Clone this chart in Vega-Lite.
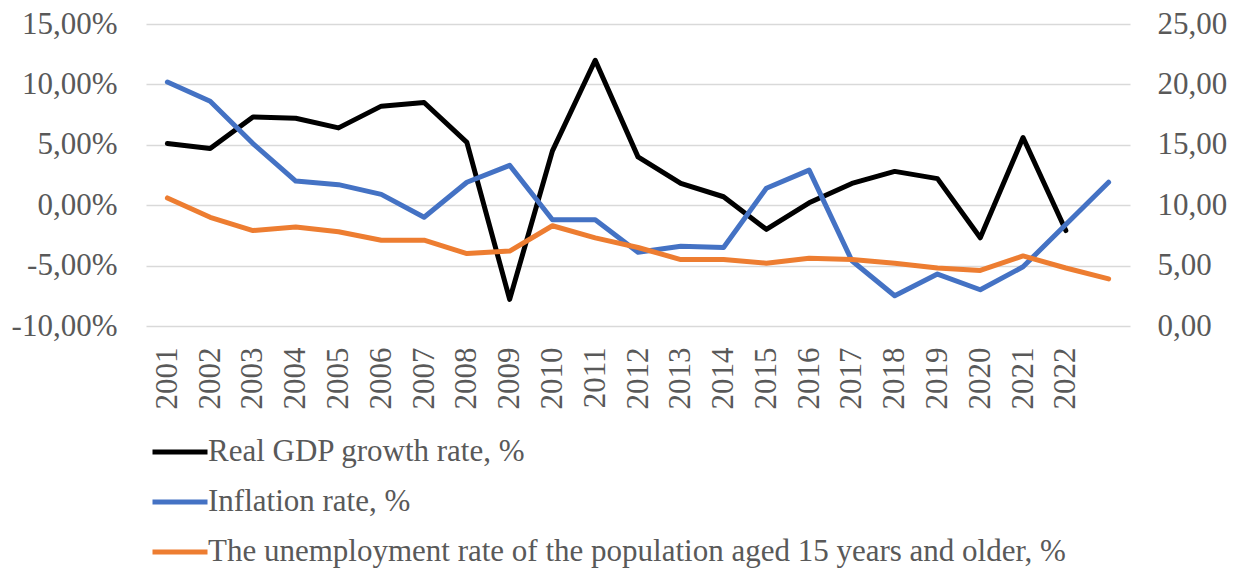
{
  "$schema": "https://vega.github.io/schema/vega-lite/v6.json",
  "width": 984,
  "height": 302,
  "autosize": {"type": "none"},
  "padding": {"left": 146, "top": 24, "right": 110, "bottom": 245},
  "background": "white",
  "config": {"view": {"stroke": null}, "font": "Liberation Serif"},
  "data": {"values": [
    {"year": "2001", "series": "Real GDP growth rate, %", "value": 5.1},
    {"year": "2002", "series": "Real GDP growth rate, %", "value": 4.7},
    {"year": "2003", "series": "Real GDP growth rate, %", "value": 7.3},
    {"year": "2004", "series": "Real GDP growth rate, %", "value": 7.2},
    {"year": "2005", "series": "Real GDP growth rate, %", "value": 6.4},
    {"year": "2006", "series": "Real GDP growth rate, %", "value": 8.2},
    {"year": "2007", "series": "Real GDP growth rate, %", "value": 8.5},
    {"year": "2008", "series": "Real GDP growth rate, %", "value": 5.2},
    {"year": "2009", "series": "Real GDP growth rate, %", "value": -7.8},
    {"year": "2010", "series": "Real GDP growth rate, %", "value": 4.5},
    {"year": "2011", "series": "Real GDP growth rate, %", "value": 12.0},
    {"year": "2012", "series": "Real GDP growth rate, %", "value": 4.0},
    {"year": "2013", "series": "Real GDP growth rate, %", "value": 1.8},
    {"year": "2014", "series": "Real GDP growth rate, %", "value": 0.7},
    {"year": "2015", "series": "Real GDP growth rate, %", "value": -2.0},
    {"year": "2016", "series": "Real GDP growth rate, %", "value": 0.2},
    {"year": "2017", "series": "Real GDP growth rate, %", "value": 1.8},
    {"year": "2018", "series": "Real GDP growth rate, %", "value": 2.8},
    {"year": "2019", "series": "Real GDP growth rate, %", "value": 2.2},
    {"year": "2020", "series": "Real GDP growth rate, %", "value": -2.7},
    {"year": "2021", "series": "Real GDP growth rate, %", "value": 5.6},
    {"year": "2022", "series": "Real GDP growth rate, %", "value": -2.1},
    {"year": "2001", "series": "Inflation rate, %", "value": 20.2},
    {"year": "2002", "series": "Inflation rate, %", "value": 18.6},
    {"year": "2003", "series": "Inflation rate, %", "value": 15.1},
    {"year": "2004", "series": "Inflation rate, %", "value": 12.0},
    {"year": "2005", "series": "Inflation rate, %", "value": 11.7},
    {"year": "2006", "series": "Inflation rate, %", "value": 10.9},
    {"year": "2007", "series": "Inflation rate, %", "value": 9.0},
    {"year": "2008", "series": "Inflation rate, %", "value": 11.9},
    {"year": "2009", "series": "Inflation rate, %", "value": 13.3},
    {"year": "2010", "series": "Inflation rate, %", "value": 8.8},
    {"year": "2011", "series": "Inflation rate, %", "value": 8.8},
    {"year": "2012", "series": "Inflation rate, %", "value": 6.1},
    {"year": "2013", "series": "Inflation rate, %", "value": 6.6},
    {"year": "2014", "series": "Inflation rate, %", "value": 6.5},
    {"year": "2015", "series": "Inflation rate, %", "value": 11.4},
    {"year": "2016", "series": "Inflation rate, %", "value": 12.9},
    {"year": "2017", "series": "Inflation rate, %", "value": 5.4},
    {"year": "2018", "series": "Inflation rate, %", "value": 2.5},
    {"year": "2019", "series": "Inflation rate, %", "value": 4.3},
    {"year": "2020", "series": "Inflation rate, %", "value": 3.0},
    {"year": "2021", "series": "Inflation rate, %", "value": 4.9},
    {"year": "2022", "series": "Inflation rate, %", "value": 8.4},
    {"year": "2023", "series": "Inflation rate, %", "value": 11.9},
    {"year": "2001", "series": "The unemployment rate of the population aged 15 years and older, %", "value": 10.6},
    {"year": "2002", "series": "The unemployment rate of the population aged 15 years and older, %", "value": 9.0},
    {"year": "2003", "series": "The unemployment rate of the population aged 15 years and older, %", "value": 7.9},
    {"year": "2004", "series": "The unemployment rate of the population aged 15 years and older, %", "value": 8.2},
    {"year": "2005", "series": "The unemployment rate of the population aged 15 years and older, %", "value": 7.8},
    {"year": "2006", "series": "The unemployment rate of the population aged 15 years and older, %", "value": 7.1},
    {"year": "2007", "series": "The unemployment rate of the population aged 15 years and older, %", "value": 7.1},
    {"year": "2008", "series": "The unemployment rate of the population aged 15 years and older, %", "value": 6.0},
    {"year": "2009", "series": "The unemployment rate of the population aged 15 years and older, %", "value": 6.2},
    {"year": "2010", "series": "The unemployment rate of the population aged 15 years and older, %", "value": 8.3},
    {"year": "2011", "series": "The unemployment rate of the population aged 15 years and older, %", "value": 7.3},
    {"year": "2012", "series": "The unemployment rate of the population aged 15 years and older, %", "value": 6.5},
    {"year": "2013", "series": "The unemployment rate of the population aged 15 years and older, %", "value": 5.5},
    {"year": "2014", "series": "The unemployment rate of the population aged 15 years and older, %", "value": 5.5},
    {"year": "2015", "series": "The unemployment rate of the population aged 15 years and older, %", "value": 5.2},
    {"year": "2016", "series": "The unemployment rate of the population aged 15 years and older, %", "value": 5.6},
    {"year": "2017", "series": "The unemployment rate of the population aged 15 years and older, %", "value": 5.5},
    {"year": "2018", "series": "The unemployment rate of the population aged 15 years and older, %", "value": 5.2},
    {"year": "2019", "series": "The unemployment rate of the population aged 15 years and older, %", "value": 4.8},
    {"year": "2020", "series": "The unemployment rate of the population aged 15 years and older, %", "value": 4.6},
    {"year": "2021", "series": "The unemployment rate of the population aged 15 years and older, %", "value": 5.8},
    {"year": "2022", "series": "The unemployment rate of the population aged 15 years and older, %", "value": 4.8},
    {"year": "2023", "series": "The unemployment rate of the population aged 15 years and older, %", "value": 3.9}
  ]},
  "encoding": {
    "x": {
      "field": "year", "type": "ordinal",
      "scale": {"type": "point", "padding": 0.5},
      "axis": {
        "title": null, "labelAngle": -90, "labelFontSize": 31, "labelColor": "#595959",
        "labelPadding": 21, "ticks": false, "domain": false, "grid": false,
        "labelExpr": "datum.value == '2023' ? '' : datum.label"
      }
    },
    "color": {
      "field": "series", "type": "nominal",
      "scale": {
        "domain": ["Real GDP growth rate, %", "Inflation rate, %", "The unemployment rate of the population aged 15 years and older, %"],
        "range": ["#000000", "#4472C4", "#ED7D31"]
      },
      "legend": {
        "orient": "none", "legendX": 4, "legendY": 398, "direction": "vertical", "title": null,
        "symbolType": "stroke", "symbolSize": 3025, "symbolStrokeWidth": 5,
        "labelFontSize": 31, "labelColor": "#595959", "labelOffset": -2, "labelLimit": 1200,
        "rowPadding": 5, "padding": 0
      }
    }
  },
  "layer": [
    {
      "transform": [{"filter": "datum.series == 'Real GDP growth rate, %'"}],
      "mark": {"type": "line", "strokeWidth": 5, "strokeCap": "round", "strokeJoin": "round"},
      "encoding": {
        "y": {
          "field": "value", "type": "quantitative",
          "scale": {"domain": [-10, 15], "nice": false, "zero": false},
          "axis": {
            "orient": "left", "title": null, "values": [-10, -5, 0, 5, 10, 15],
            "grid": true, "gridColor": "#D9D9D9", "gridWidth": 1.3, "domain": false, "ticks": false,
            "labelFontSize": 31, "labelColor": "#595959", "labelPadding": 29,
            "labelExpr": "(datum.value < 0 ? '-' : '') + replace(format(abs(datum.value), '.2f'), '.', ',') + '%'"
          }
        }
      }
    },
    {
      "transform": [{"filter": "datum.series != 'Real GDP growth rate, %'"}],
      "mark": {"type": "line", "strokeWidth": 5, "strokeCap": "round", "strokeJoin": "round"},
      "encoding": {
        "y": {
          "field": "value", "type": "quantitative",
          "scale": {"domain": [0, 25], "nice": false},
          "axis": {
            "orient": "right", "title": null, "values": [0, 5, 10, 15, 20, 25],
            "grid": false, "domain": false, "ticks": false,
            "labelFontSize": 31, "labelColor": "#595959", "labelPadding": 27,
            "labelExpr": "replace(format(datum.value, '.2f'), '.', ',')"
          }
        }
      }
    }
  ],
  "resolve": {"scale": {"y": "independent"}}
}
